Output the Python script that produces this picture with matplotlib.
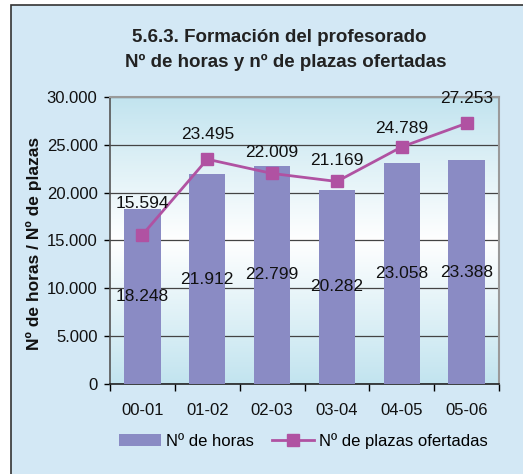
import numpy as np
import matplotlib
matplotlib.use("Agg")
import matplotlib.pyplot as plt
from matplotlib.colors import LinearSegmentedColormap
from matplotlib.patches import Rectangle

plt.rcParams['font.family'] = ['Liberation Sans', 'DejaVu Sans']

# Datos
cursos = ['00-01', '01-02', '02-03', '03-04', '04-05', '05-06']
horas = [18248, 21912, 22799, 20282, 23058, 23388]
plazas = [15594, 23495, 22009, 21169, 24789, 27253]

# Desplazamiento vertical (px) de las etiquetas de la linea
desp_plazas = [24, 17, 13, 13, 11, 17]

fig = plt.figure(figsize=(5.23, 4.74), dpi=100)
fig.patch.set_facecolor('white')

# fondo azul claro con marco
fig.patches.append(Rectangle((10.5 / 523, -0.05), 1.1, 1.05 - 5.5 / 474,
                             transform=fig.transFigure, facecolor='#d3e8f5',
                             edgecolor='#333333', linewidth=1.2, zorder=-10))

ax = fig.add_axes([110 / 523, 1 - 384 / 474, 389 / 523, 287 / 474])
ax.set_facecolor('white')

# degradado del area de trazado
cmap = LinearSegmentedColormap.from_list('grad', ['#c2e4ef', '#ffffff', '#c2e4ef'])
grad = np.linspace(0, 1, 256).reshape(-1, 1)
ax.imshow(grad, cmap=cmap, extent=[0, 1, 0, 1], transform=ax.transAxes,
          aspect='auto', zorder=0)

x = np.arange(len(cursos))
barras = ax.bar(x, horas, width=0.56, color='#8a8bc4', zorder=3, label='Nº de horas')
linea, = ax.plot(x, plazas, color='#b052a2', linewidth=2, marker='s', markersize=9,
                 zorder=4, label='Nº de plazas ofertadas')

for xi, v in zip(x, horas):
    ax.text(xi, v / 2, f'{v:,}'.replace(',', '.'), ha='center', va='center',
            fontsize=12.5, color='#111111', zorder=5)

for xi, v, d in zip(x, plazas, desp_plazas):
    ax.annotate(f'{v:,}'.replace(',', '.'), (xi, v), xytext=(0, d),
                textcoords='offset pixels', ha='center', va='bottom',
                fontsize=12.5, color='#111111', zorder=5)

ax.set_xlim(-0.5, len(cursos) - 0.5)
ax.set_ylim(0, 30000)
ax.set_yticks(range(0, 30001, 5000))
ax.set_yticklabels([f'{t:,}'.replace(',', '.') for t in range(0, 30001, 5000)])
ax.set_xticks(np.arange(-0.5, len(cursos), 1), minor=False)
ax.set_xticklabels([])
ax.set_xticks(x, minor=True)
ax.set_xticklabels(cursos, minor=True)
ax.tick_params(axis='x', which='minor', length=0, pad=14, labelsize=12, labelcolor='#111111')
ax.tick_params(axis='x', which='major', length=5, width=1)
ax.tick_params(axis='y', length=4, width=1, pad=5, labelsize=12, labelcolor='#111111')

ax.grid(axis='y', color='#444444', linewidth=0.9, zorder=1)
ax.set_axisbelow(True)
for s in ['top', 'right']:
    ax.spines[s].set_color('#9a9a9a')
    ax.spines[s].set_linewidth(1.5)
ax.spines['left'].set_color('#555555')
ax.spines['bottom'].set_color('#222222')
ax.spines['left'].set_linewidth(1.2)
ax.spines['bottom'].set_linewidth(1.2)

fig.text(34 / 523, 1 - 243 / 474, 'Nº de horas / Nº de plazas', rotation=90,
         ha='center', va='center', fontsize=12.5, fontweight='bold', color='#111111')

fig.text(0.533, 1 - 37 / 474, '5.6.3. Formación del profesorado', ha='center', va='center',
         fontsize=13.5, fontweight='bold', color='#222222')
fig.text(0.547, 1 - 62 / 474, 'Nº de horas y nº de plazas ofertadas', ha='center', va='center',
         fontsize=13.5, fontweight='bold', color='#222222')

fig.legend([barras, linea], ['Nº de horas', 'Nº de plazas ofertadas'],
           loc='center', bbox_to_anchor=(0.58, 1 - 441 / 474), ncol=2, frameon=False,
           fontsize=12, handlelength=2.5, handletextpad=0.3, columnspacing=1.1)

fig.savefig('out.png', dpi=100)
